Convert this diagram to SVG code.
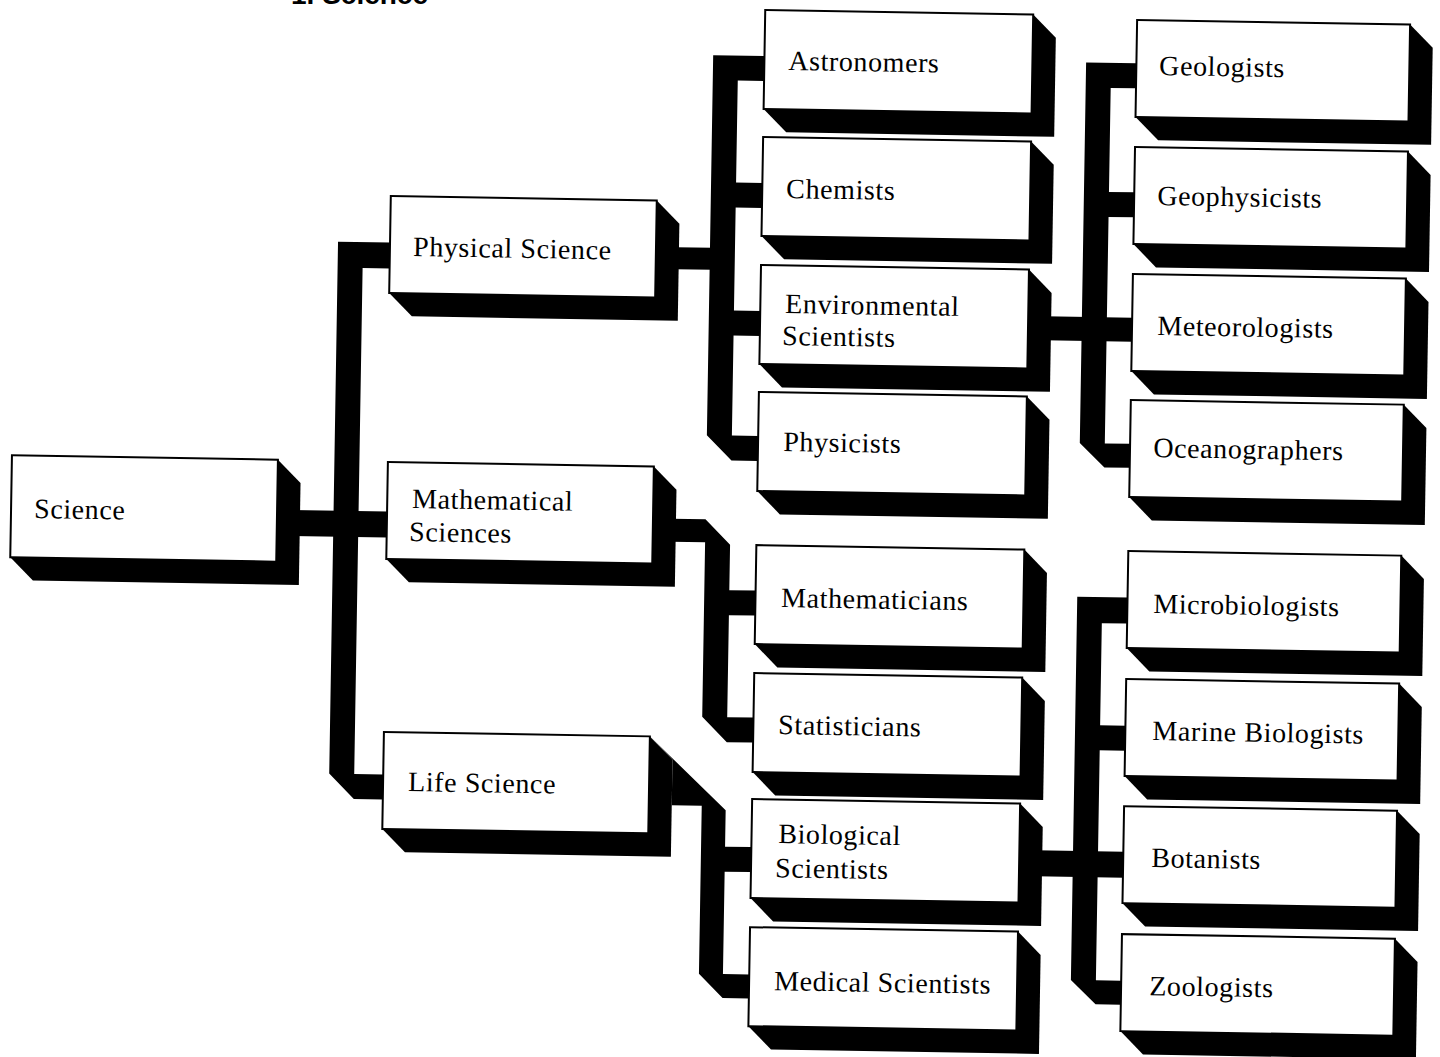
<svg xmlns="http://www.w3.org/2000/svg" width="1440" height="1057" viewBox="0 0 1440 1057">
<style>
.front{fill:#fff;stroke:#000;stroke-width:2}
.shadow{fill:#000}
.conn{fill:#000}
.lbl{font-family:"Liberation Serif","Times New Roman",serif;font-size:28px;letter-spacing:0.6px;fill:#000}
.title{font-family:"Liberation Sans",Arial,sans-serif;font-size:28px;font-weight:bold;fill:#000}
</style>
<rect width="1440" height="1057" fill="#fff"/>
<text class="title" x="428" y="4" text-anchor="end">1. Science</text>
<g transform="rotate(0.95)">
<g id="connectors">
  <rect class="conn" x="300" y="505" width="96" height="26"/>
  <polygon class="conn" points="342,236 394,236 394,262 367,262 367,768 396,768 396,793 367,793 342,768"/>
  <rect class="conn" x="680" y="236" width="36" height="22"/>
  <polygon class="conn" points="714,43.3 765.3,43.3 765.3,68.3 739,68.3 739,423.4 765.3,423.4 765.3,448.4 739,448.4 714,423.4"/>
  <rect class="conn" x="738" y="170.3" width="28" height="25"/>
  <rect class="conn" x="738" y="298.4" width="28" height="25"/>
  <rect class="conn" x="1050" y="299" width="88" height="24"/>
  <polygon class="conn" points="1087,44.5 1137.3,44.5 1137.3,69.5 1112,69.5 1112,425 1137.3,425 1137.3,449 1112,449 1087,425"/>
  <rect class="conn" x="1111" y="173.5" width="27" height="25"/>
  <polygon class="conn" points="680,507.6 714,507.6 739,532.6 739,578 765.3,578 765.3,603 739,603 739,705 765.3,705 765.3,730 739,730 714,705 714,530.6 680,530.6"/>
  <polygon class="conn" points="662,725.5 739,798 739,834.5 765.3,834.5 765.3,859.5 739,859.5 739,962 765.3,962 765.3,986 739,986 715,962 715,794 685,794 685,748.5"/>
  <rect class="conn" x="1050" y="833" width="88" height="26"/>
  <polygon class="conn" points="1087,578.8 1137.3,578.8 1137.3,604.8 1112,604.8 1112,962 1137.3,962 1137.3,986 1112,986 1087,962"/>
  <rect class="conn" x="1111" y="707" width="27" height="25"/>
</g>
<g id="science">
  <polygon class="shadow" points="285.5,455 308.5,478 308.5,580 42.5,580 19.5,557"/>
  <rect class="front" x="19.5" y="455" width="266" height="102"/>
  <text class="lbl" x="42.6" y="517.4">Science</text>
</g>
<g id="physical-science">
  <polygon class="shadow" points="660,189.5 683,212.5 683,309.5 417,309.5 394,286.5"/>
  <rect class="front" x="394" y="189.5" width="266" height="97"/>
  <text class="lbl" x="417.2" y="249.2">Physical Science</text>
</g>
<g id="mathematical-sciences">
  <polygon class="shadow" points="661.5,455.5 684.5,478.5 684.5,575.5 418.5,575.5 395.5,552.5"/>
  <rect class="front" x="395.5" y="455.5" width="266" height="97"/>
  <text class="lbl" x="420.4" y="501.2">Mathematical</text>
  <text class="lbl" x="418" y="534.2">Sciences</text>
</g>
<g id="life-science">
  <polygon class="shadow" points="662,725.5 685,748.5 685,845.5 419,845.5 396,822.5"/>
  <rect class="front" x="396" y="725.5" width="266" height="97"/>
  <text class="lbl" x="421.1" y="784.2">Life Science</text>
</g>
<g id="astronomers">
  <polygon class="shadow" points="1033.3,-2.7 1056.3,20.3 1056.3,119.3 788.3,119.3 765.3,96.3"/>
  <rect class="front" x="765.3" y="-2.7" width="268" height="99"/>
  <text class="lbl" x="789.2" y="56.9">Astronomers</text>
</g>
<g id="chemists">
  <polygon class="shadow" points="1033.3,124.3 1056.3,147.3 1056.3,246.3 788.3,246.3 765.3,223.3"/>
  <rect class="front" x="765.3" y="124.3" width="268" height="99"/>
  <text class="lbl" x="789.3" y="185">Chemists</text>
</g>
<g id="environmental-scientists">
  <polygon class="shadow" points="1033.3,252.4 1056.3,275.4 1056.3,374.4 788.3,374.4 765.3,351.4"/>
  <rect class="front" x="765.3" y="252.4" width="268" height="99"/>
  <text class="lbl" x="790.2" y="300">Environmental</text>
  <text class="lbl" x="787.7" y="332">Scientists</text>
</g>
<g id="physicists">
  <polygon class="shadow" points="1033.3,379.4 1056.3,402.4 1056.3,501.4 788.3,501.4 765.3,478.4"/>
  <rect class="front" x="765.3" y="379.4" width="268" height="99"/>
  <text class="lbl" x="790.5" y="438">Physicists</text>
</g>
<g id="mathematicians">
  <polygon class="shadow" points="1033.3,532.5 1056.3,555.5 1056.3,654.5 788.3,654.5 765.3,631.5"/>
  <rect class="front" x="765.3" y="532.5" width="268" height="99"/>
  <text class="lbl" x="791" y="594">Mathematicians</text>
</g>
<g id="statisticians">
  <polygon class="shadow" points="1033.3,660.5 1056.3,683.5 1056.3,782.5 788.3,782.5 765.3,759.5"/>
  <rect class="front" x="765.3" y="660.5" width="268" height="99"/>
  <text class="lbl" x="790.2" y="721.1">Statisticians</text>
</g>
<g id="biological-scientists">
  <polygon class="shadow" points="1033.3,786.5 1056.3,809.5 1056.3,908.5 788.3,908.5 765.3,885.5"/>
  <rect class="front" x="765.3" y="786.5" width="268" height="99"/>
  <text class="lbl" x="792" y="830.1">Biological</text>
  <text class="lbl" x="789.5" y="864.2">Scientists</text>
</g>
<g id="medical-scientists">
  <polygon class="shadow" points="1033.3,914.6 1056.3,937.6 1056.3,1036.6 788.3,1036.6 765.3,1013.6"/>
  <rect class="front" x="765.3" y="914.6" width="268" height="99"/>
  <text class="lbl" x="790.4" y="977.2">Medical Scientists</text>
</g>
<g id="geologists">
  <polygon class="shadow" points="1410.3,1.1 1433.3,24.1 1433.3,121.1 1160.3,121.1 1137.3,98.1"/>
  <rect class="front" x="1137.3" y="1.1" width="273" height="97"/>
  <text class="lbl" x="1160.2" y="55.8">Geologists</text>
</g>
<g id="geophysicists">
  <polygon class="shadow" points="1410.3,128.2 1433.3,151.2 1433.3,248.2 1160.3,248.2 1137.3,225.2"/>
  <rect class="front" x="1137.3" y="128.2" width="273" height="97"/>
  <text class="lbl" x="1160.4" y="185.8">Geophysicists</text>
</g>
<g id="meteorologists">
  <polygon class="shadow" points="1410.3,255.2 1433.3,278.2 1433.3,375.2 1160.3,375.2 1137.3,352.2"/>
  <rect class="front" x="1137.3" y="255.2" width="273" height="97"/>
  <text class="lbl" x="1162.6" y="315.8">Meteorologists</text>
</g>
<g id="oceanographers">
  <polygon class="shadow" points="1410.3,381.3 1433.3,404.3 1433.3,501.3 1160.3,501.3 1137.3,478.3"/>
  <rect class="front" x="1137.3" y="381.3" width="273" height="97"/>
  <text class="lbl" x="1160.6" y="437.9">Oceanographers</text>
</g>
<g id="microbiologists">
  <polygon class="shadow" points="1410.3,532.3 1433.3,555.3 1433.3,652.3 1160.3,652.3 1137.3,629.3"/>
  <rect class="front" x="1137.3" y="532.3" width="273" height="97"/>
  <text class="lbl" x="1163.2" y="593.9">Microbiologists</text>
</g>
<g id="marine-biologists">
  <polygon class="shadow" points="1410.3,660.3 1433.3,683.3 1433.3,780.3 1160.3,780.3 1137.3,757.3"/>
  <rect class="front" x="1137.3" y="660.3" width="273" height="97"/>
  <text class="lbl" x="1164.3" y="720.9">Marine Biologists</text>
</g>
<g id="botanists">
  <polygon class="shadow" points="1410.3,787.4 1433.3,810.4 1433.3,907.4 1160.3,907.4 1137.3,884.4"/>
  <rect class="front" x="1137.3" y="787.4" width="273" height="97"/>
  <text class="lbl" x="1165.4" y="847.9">Botanists</text>
</g>
<g id="zoologists">
  <polygon class="shadow" points="1410.3,915.4 1433.3,938.4 1433.3,1035.4 1160.3,1035.4 1137.3,1012.4"/>
  <rect class="front" x="1137.3" y="915.4" width="273" height="97"/>
  <text class="lbl" x="1165.5" y="976">Zoologists</text>
</g>
</g>
</svg>
